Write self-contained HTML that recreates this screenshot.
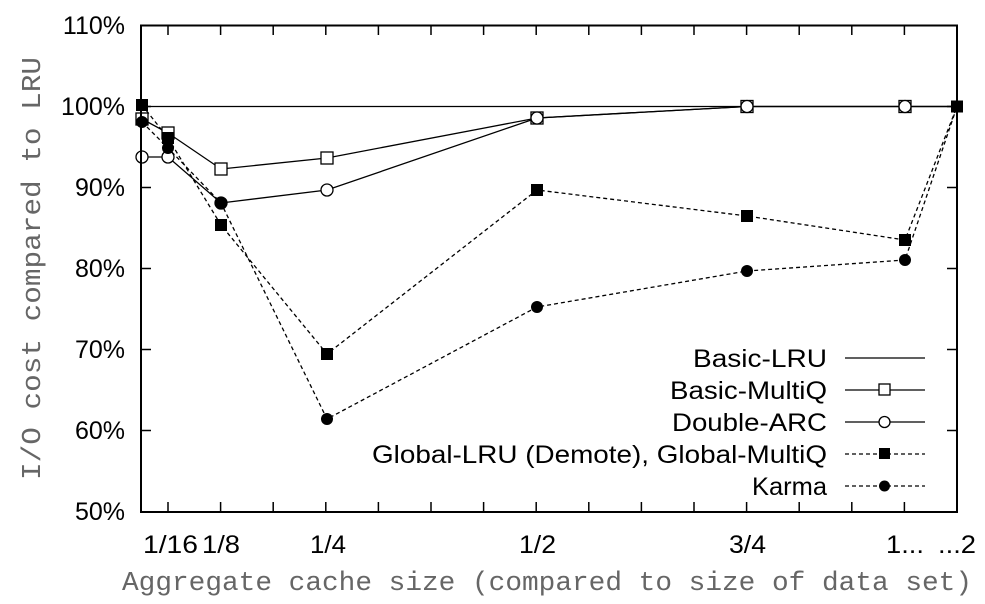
<!DOCTYPE html>
<html><head><meta charset="utf-8"><style>
html,body{margin:0;padding:0;background:#fff}
svg{display:block}
.l{font-family:"Liberation Sans",sans-serif;font-size:25px;fill:#000}
.m{font-family:"Liberation Mono",monospace;font-size:27px;fill:#666}
</style></head><body>
<svg width="985" height="604" viewBox="0 0 985 604" xmlns="http://www.w3.org/2000/svg">
<g stroke="#000" stroke-width="1.5" fill="none">
<path d="M141 25.5h10M141 106.5h10M141 187.5h10M141 268.5h10M141 349.5h10M141 430.5h10M957 25.5h-10M957 106.5h-10M957 187.5h-10M957 268.5h-10M957 349.5h-10M957 430.5h-10"/>
<path d="M168 512v-10M220.6 512v-10M273.2 512v-10M325.8 512v-10M378.4 512v-10M431 512v-10M483.6 512v-10M536.2 512v-10M588.8 512v-10M641.4 512v-10M694 512v-10M746.6 512v-10M799.2 512v-10M851.8 512v-10M904.4 512v-10"/>
<path d="M168 25v10M220.6 25v10M273.2 25v10M325.8 25v10M378.4 25v10M431 25v10M483.6 25v10M536.2 25v10M588.8 25v10M641.4 25v10M694 25v10M746.6 25v10M799.2 25v10M851.8 25v10M904.4 25v10"/>
</g>
<g stroke="#000" stroke-width="1.3" fill="none">
<path d="M141 106.5H957"/>
<polyline points="142,119 168,133 221,169 327,158 537,118 747,106.5 905,106.5 957,106.5"/>
<polyline points="142,157 168,157 221,203 327,190 537,118 747,106.5 905,106.5 957,106.5"/>
<polyline stroke-dasharray="4,3" points="142,105 168,138 221,225 327,354 537,190 747,216 905,240 957,106.5"/>
<polyline stroke-dasharray="4,3" points="142,122 168,148 221,203 327,419 537,307 747,271 905,260 957,106.5"/>
</g>
<g stroke="#000" stroke-width="1.3" fill="#fff">
<rect x="136" y="113" width="12" height="12"/><rect x="162" y="127" width="12" height="12"/><rect x="215" y="163" width="12" height="12"/><rect x="321" y="152" width="12" height="12"/><rect x="531" y="112" width="12" height="12"/><rect x="741" y="100.5" width="12" height="12"/><rect x="899" y="100.5" width="12" height="12"/>
<circle cx="142" cy="157" r="6"/><circle cx="168" cy="157" r="6"/><circle cx="221" cy="203" r="6"/><circle cx="327" cy="190" r="6"/><circle cx="537" cy="118" r="6"/><circle cx="747" cy="106.5" r="6"/><circle cx="905" cy="106.5" r="6"/>
</g>
<g fill="#000">
<rect x="136" y="99" width="12" height="12"/><rect x="162" y="132" width="12" height="12"/><rect x="215" y="219" width="12" height="12"/><rect x="321" y="348" width="12" height="12"/><rect x="531" y="184" width="12" height="12"/><rect x="741" y="210" width="12" height="12"/><rect x="899" y="234" width="12" height="12"/><rect x="951" y="100.5" width="12" height="12"/>
<circle cx="142" cy="122" r="6"/><circle cx="168" cy="148" r="6"/><circle cx="221" cy="203" r="6"/><circle cx="327" cy="419" r="6"/><circle cx="537" cy="307" r="6"/><circle cx="747" cy="271" r="6"/><circle cx="905" cy="260" r="6"/>
</g>
<rect x="141" y="25.5" width="816" height="486.5" fill="none" stroke="#000" stroke-width="2"/>
<g class="l" font-size="26">
<text x="693" y="367" textLength="134" lengthAdjust="spacingAndGlyphs">Basic-LRU</text>
<text x="670" y="399" textLength="157" lengthAdjust="spacingAndGlyphs">Basic-MultiQ</text>
<text x="672" y="431" textLength="155" lengthAdjust="spacingAndGlyphs">Double-ARC</text>
<text x="372" y="463" textLength="455" lengthAdjust="spacingAndGlyphs">Global-LRU (Demote), Global-MultiQ</text>
<text x="752" y="495" textLength="75" lengthAdjust="spacingAndGlyphs">Karma</text>
</g>
<g stroke="#000" stroke-width="1.3" fill="none">
<path d="M845 358H925M845 390H925M845 422H925"/>
<path stroke-dasharray="4,3" d="M845 454H925M845 486H925"/>
</g>
<rect x="879" y="384" width="11" height="11" fill="#fff" stroke="#000" stroke-width="1.3"/>
<circle cx="884.5" cy="422" r="5.5" fill="#fff" stroke="#000" stroke-width="1.3"/>
<rect x="879" y="448" width="11" height="11" fill="#000"/>
<circle cx="884.5" cy="486" r="5.5" fill="#000"/>
<g class="l" font-size="24" text-anchor="end">
<text x="125" y="34">110%</text>
<text x="125" y="115">100%</text>
<text x="125" y="196">90%</text>
<text x="125" y="277">80%</text>
<text x="125" y="358">70%</text>
<text x="125" y="439">60%</text>
<text x="125" y="520">50%</text>
</g>
<g class="l" font-size="25">
<text x="143" y="553" textLength="55" lengthAdjust="spacingAndGlyphs">1/16</text>
<text x="202" y="553" textLength="38" lengthAdjust="spacingAndGlyphs">1/8</text>
<text x="310" y="553" textLength="36" lengthAdjust="spacingAndGlyphs">1/4</text>
<text x="519" y="553" textLength="37" lengthAdjust="spacingAndGlyphs">1/2</text>
<text x="729" y="553" textLength="37" lengthAdjust="spacingAndGlyphs">3/4</text>
<text x="886" y="553" textLength="38" lengthAdjust="spacingAndGlyphs">1...</text>
<text x="938" y="553" textLength="38" lengthAdjust="spacingAndGlyphs">...2</text>
</g>
<text class="m" x="122" y="590" textLength="850" lengthAdjust="spacingAndGlyphs">Aggregate cache size (compared to size of data set)</text>
<text class="m" x="0" y="0" textLength="423" lengthAdjust="spacingAndGlyphs" transform="translate(40,480) rotate(-90)">I/O cost compared to LRU</text>
</svg>
</body></html>
